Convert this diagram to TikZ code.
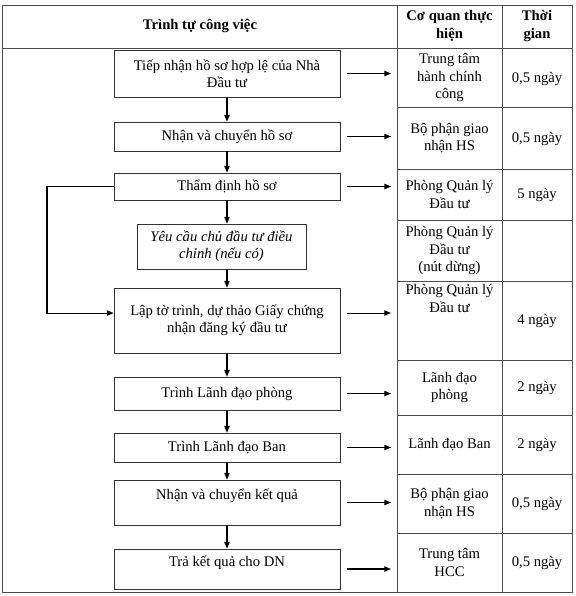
\documentclass[tikz,border=0pt]{standalone}
\usepackage{fontspec}
\setmainfont{Liberation Serif}
\usepackage{tikz}
\usetikzlibrary{
  arrows.meta,
  positioning
}
\newcommand{\flowfont}{\fontsize{11}{13}\selectfont}
\tikzset{
    stepbox/.style={draw=black!80, line width=0.6pt, rectangle, align=center, minimum width=169.5pt, inner sep=2pt},
    notebox/.style={stepbox, minimum width=126.75pt, font=\flowfont\itshape},
    cell/.style={align=center, inner sep=1pt},
    headcell/.style={cell, font=\flowfont\bfseries},
    grid/.style={draw=black!70, line width=0.6pt},
    arr/.style={-{Triangle[length=5pt,width=4pt]}, line width=0.8pt},
    sidearr/.style={arr, shorten <=5pt, shorten >=4.5pt}
}

\begin{document}
\begin{tikzpicture}[x=0.75pt, y=-0.75pt, font=\flowfont]
    \useasboundingbox (0,0) rectangle (575,596);

    % table frame
    \coordinate (tl) at (2,5);
    \coordinate (br) at (572,592);
    \coordinate (colA) at (397,5);
    \coordinate (colB) at (502,5);
    \coordinate (loopx) at (47,5);
    \draw[grid] (tl) rectangle (br);
    \draw[grid] (2,48) -- (572,48);
    \draw[grid] (colA) -- (colA |- br);
    \draw[grid] (colB) -- (colB |- br);
    \foreach \y in {107,169,220,281,360,415,474,533}
        \draw[grid] (397,\y) -- (572,\y);

    % header
    \node[headcell] (hStep) at (200,26) {Trình tự công việc};
    \node[headcell] (hUnit) at (449.5,26) {Cơ quan thực\\hiện};
    \node[headcell] (hTime) at (537,26) {Thời\\gian};

    % steps
    \node[stepbox, minimum height=35.25pt] (b1) at (227,73.5) {Tiếp nhận hồ sơ hợp lệ của Nhà\\Đầu tư};
    \node[stepbox, minimum height=21.75pt] (b2) at (227,136.5) {Nhận và chuyển hồ sơ};
    \node[stepbox, minimum height=20.25pt] (b3) at (227,186.5) {Thẩm định hồ sơ};
    \node[notebox, minimum height=33.75pt] (b4) at (221.5,246.5) {Yêu cầu chủ đầu tư điều\\chỉnh (nếu có)};
    \node[stepbox, minimum height=48.75pt] (b5) at (227,320.5) {Lập tờ trình, dự thảo Giấy chứng\\nhận đăng ký đầu tư};
    \node[stepbox, minimum height=24.75pt] (b6) at (227,393.5) {Trình Lãnh đạo phòng};
    \node[stepbox, minimum height=21.75pt] (b7) at (227,447.5) {Trình Lãnh đạo Ban};
    \node[stepbox, minimum height=33.75pt, text depth=12pt] (b8) at (227,502.5) {Nhận và chuyển kết quả};
    \node[stepbox, minimum height=30pt, text depth=11pt] (b9) at (227,569) {Trả kết quả cho DN};

    % agencies
    \node[cell] (a1) at (449.5,77.5) {Trung tâm\\hành chính\\công};
    \node[cell] (a2) at (449.5,138) {Bộ phận giao\\nhận HS};
    \node[cell] (a3) at (449.5,194.5) {Phòng Quản lý\\Đầu tư};
    \node[cell] (a4) at (449.5,250.5) {Phòng Quản lý\\Đầu tư\\(nút dừng)};
    \node[cell, anchor=north] (a5) at (449.5,283) {Phòng Quản lý\\Đầu tư};
    \node[cell] (a6) at (449.5,387.5) {Lãnh đạo\\phòng};
    \node[cell] (a7) at (449.5,444.5) {Lãnh đạo Ban};
    \node[cell] (a8) at (449.5,503.5) {Bộ phận giao\\nhận HS};
    \node[cell] (a9) at (449.5,562.5) {Trung tâm\\HCC};

    % times
    \node[cell] (t1) at (537,79) {0,5 ngày};
    \node[cell] (t2) at (537,139) {0,5 ngày};
    \node[cell] (t3) at (537,194.5) {5 ngày};
    \node[cell] (t5) at (537,320.5) {4 ngày};
    \node[cell] (t6) at (537,387.5) {2 ngày};
    \node[cell] (t7) at (537,444.5) {2 ngày};
    \node[cell] (t8) at (537,503.5) {0,5 ngày};
    \node[cell] (t9) at (537,562.5) {0,5 ngày};

    % flow arrows
    \draw[arr] (b1.south) -- (b2.north);
    \draw[arr] (b2.south) -- (b3.north);
    \draw[arr] (b3.south) -- (b3.south |- b4.north);
    \draw[arr] (b4.south -| b5.north) -- (b5.north);
    \draw[arr] (b5.south) -- (b6.north);
    \draw[arr] (b6.south) -- (b7.north);
    \draw[arr] (b7.south) -- (b8.north);
    \draw[arr] (b8.south) -- (b9.north);

    % loop back when no adjustment
    \coordinate (b5in) at ([yshift=5.6pt]b5.west);
    \coordinate (b5out) at ([yshift=5.6pt]b5.east);
    \draw[arr] (b3.west) -- (b3.west -| loopx) |- (b5in);

    % arrows to agencies
    \foreach \b in {b1,b2,b3,b6,b7,b8,b9}
        \draw[sidearr] (\b.east) -- (\b.east -| colA);
    \draw[sidearr] (b5out) -- (b5out -| colA);
\end{tikzpicture}
\end{document}
